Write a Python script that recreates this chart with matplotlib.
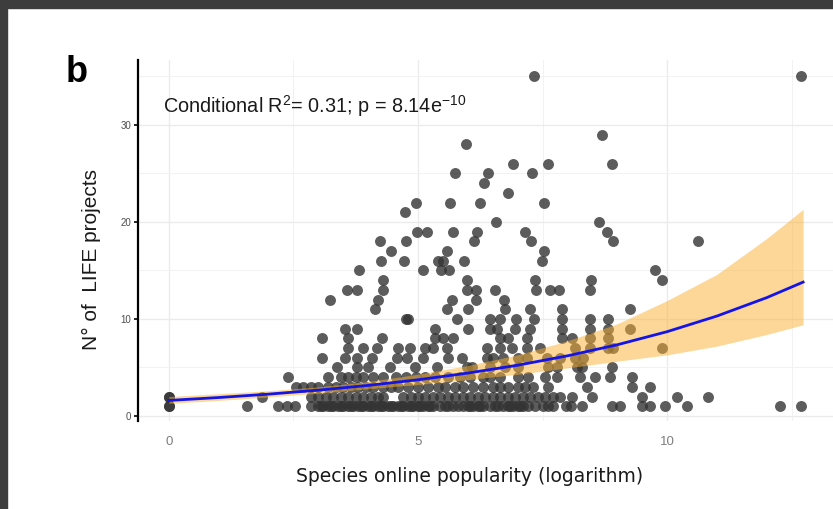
import numpy as np
import matplotlib.pyplot as plt
from matplotlib.patches import Rectangle

plt.rcParams['font.family'] = ['Liberation Sans', 'DejaVu Sans']

# Points, grouped by number of LIFE projects (y) -> popularity values (x)
x_at_1 = [0, 0, 1.57, 2.19, 2.37, 2.53, 2.85, 3.0, 3.05, 3.1, 3.2, 3.25, 3.3, 3.4, 3.45,
          3.5, 3.6, 3.65, 3.7, 3.8, 3.85, 3.9, 4.0, 4.05, 4.1, 4.2, 4.25, 4.3, 4.4, 4.45,
          4.5, 4.6, 4.65, 4.7, 4.8, 4.85, 4.9, 5.0, 5.05, 5.1, 5.2, 5.25, 5.3, 5.45, 5.55,
          5.6, 5.7, 5.8, 5.9, 6.0, 6.05, 6.1, 6.2, 6.25, 6.3, 6.45, 6.55, 6.6, 6.7, 6.8,
          6.85, 6.9, 7.0, 7.05, 7.1, 7.2, 7.35, 7.5, 7.6, 7.7, 7.97, 8.08, 8.3, 8.9, 9.05,
          9.5, 9.66, 9.96, 10.4, 12.27, 12.69]
x_at_2 = [0, 0, 1.87, 2.85, 3.0, 3.15, 3.3, 3.45, 3.6, 3.75, 3.9, 4.05, 4.2, 4.3, 4.7,
          4.85, 5.0, 5.15, 5.3, 5.45, 5.6, 5.75, 5.9, 6.05, 6.2, 6.35, 6.5, 6.65, 6.8,
          6.95, 7.1, 7.25, 7.4, 7.55, 7.7, 7.85, 8.1, 8.5, 9.5, 10.2, 10.82]
x_at_3 = [2.55, 2.7, 2.85, 3.0, 3.2, 3.35, 3.5, 3.65, 3.8, 3.95, 4.1, 4.3, 4.45, 4.6,
          4.8, 5.0, 5.2, 5.4, 5.55, 5.75, 5.9, 6.1, 6.3, 6.5, 6.65, 6.8, 7.0, 7.15, 7.3,
          7.6, 8.4, 9.3, 9.66]
x_at_4 = [2.4, 3.2, 3.45, 3.6, 3.75, 3.9, 4.1, 4.3, 4.55, 4.75, 4.95, 5.15, 5.35, 5.6,
          5.85, 6.05, 6.3, 6.45, 6.65, 7.0, 7.2, 7.55, 7.8, 8.25, 8.55, 8.85, 9.3]
x_at_5 = [3.37, 3.78, 4.0, 4.44, 4.94, 5.38, 5.98, 6.08, 6.45, 6.75, 7.0, 7.6, 7.8, 8.2,
          8.3, 8.9]
x_at_6 = [3.07, 3.53, 3.78, 4.08, 4.58, 4.78, 5.1, 5.6, 5.88, 6.39, 6.5, 6.7, 7.0, 7.19,
          7.59, 7.85, 8.15, 8.31]
x_at_7 = [3.6, 3.9, 4.18, 4.6, 4.84, 5.14, 5.3, 5.58, 6.39, 6.65, 6.89, 7.19, 7.45, 8.15,
          8.45, 8.82, 8.92, 9.9]
x_at_8 = [3.07, 3.6, 4.28, 5.34, 5.5, 5.7, 6.65, 6.8, 7.19, 7.9, 8.1, 8.45, 8.82]
x_at_9 = [3.53, 3.78, 5.34, 6.0, 6.45, 6.59, 6.95, 7.25, 7.9, 8.45, 8.82, 9.26]
x_at_10 = [4.76, 4.8, 5.78, 6.45, 6.65, 6.97, 7.33, 7.9, 8.45, 8.82]
x_at_11 = [4.14, 5.58, 6.0, 6.75, 7.25, 7.9, 9.26]
x_at_12 = [3.23, 4.2, 5.68, 6.16, 6.73]
x_at_13 = [3.57, 3.78, 4.3, 5.98, 6.16, 6.55, 7.37, 7.65, 7.83, 8.45]
x_at_14 = [4.3, 5.98, 7.35, 8.47, 9.9]
x_at_15 = [3.82, 5.1, 5.46, 5.62, 9.76]
x_at_16 = [4.26, 4.72, 5.4, 5.5, 5.92, 7.49]
x_at_17 = [4.46, 5.58, 7.53]
x_at_18 = [4.24, 4.76, 6.12, 7.27, 8.92, 10.62]
x_at_19 = [4.98, 5.18, 5.7, 6.18, 7.15, 8.8]
# sparse high counts
hi_x = [6.57, 8.63, 4.74, 4.96, 5.64, 6.24, 7.53, 6.81, 6.33,
        5.74, 6.41, 7.29, 6.91, 7.61, 8.9, 5.96, 8.69, 7.33, 12.69]
hi_y = [20, 20, 21, 22, 22, 22, 22, 23, 24,
        25, 25, 25, 26, 26, 26, 28, 29, 35, 35]

# fitted model
fit_x = [0, 1, 2, 3, 4, 5, 6, 7, 8, 9, 10, 11, 12, 12.73]
fit_y = [1.60, 1.90, 2.25, 2.66, 3.15, 3.73, 4.42, 5.23, 6.20, 7.34, 8.69, 10.3, 12.2, 13.8]
ci_lo = [1.3, 1.6, 1.95, 2.35, 2.8, 3.25, 3.75, 4.3, 4.95, 5.65, 6.3, 7.2, 8.4, 9.4]
ci_hi = [2.0, 2.3, 2.6, 3.0, 3.55, 4.3, 5.2, 6.3, 7.75, 9.5, 11.9, 14.6, 18.3, 21.3]

rows = [x_at_1, x_at_2, x_at_3, x_at_4, x_at_5, x_at_6, x_at_7, x_at_8, x_at_9, x_at_10,
        x_at_11, x_at_12, x_at_13, x_at_14, x_at_15, x_at_16, x_at_17, x_at_18, x_at_19]
pts_x, pts_y = [], []
for k, xs in enumerate(rows):
    pts_x += xs
    pts_y += [k + 1] * len(xs)
pts_x += hi_x
pts_y += hi_y

W, H = 833, 509
fig = plt.figure(figsize=(W / 100, H / 100), dpi=100)
fig.patch.set_facecolor('white')
# dark screenshot frame
fig.patches.append(Rectangle((0, 1 - 8 / H), 1, 8 / H, transform=fig.transFigure,
                             color='#3d3d3d', zorder=0))
fig.patches.append(Rectangle((0, 0), 7 / W, 1, transform=fig.transFigure,
                             color='#3d3d3d', zorder=0))

ax = fig.add_axes([138 / W, 1 - 421 / H, (W - 138) / W, (421 - 60) / H])
ax.set_xlim(-0.62, 13.33)
ax.set_ylim(-0.52, 36.7)

ax.scatter(pts_x, pts_y, s=62, color='#333333', alpha=0.8, linewidths=0, zorder=2)
ax.fill_between(fit_x, ci_lo, ci_hi, color='#FBB131', alpha=0.5, linewidth=0, zorder=3)
ax.plot(fit_x, fit_y, color='#1414E6', lw=2, zorder=4)

ax.set_xticks([0, 5, 10])
ax.set_xticks([2.5, 7.5, 12.5], minor=True)
ax.set_yticks([0, 10, 20, 30])
ax.set_yticks([5, 15, 25, 35], minor=True)
ax.grid(which='major', color='#EBEBEB', lw=1.0, zorder=0)
ax.grid(which='minor', color='#F2F2F2', lw=0.7, zorder=0)
ax.set_axisbelow(True)
for s in ['top', 'right', 'bottom']:
    ax.spines[s].set_visible(False)
ax.spines['left'].set_color('black')
ax.spines['left'].set_linewidth(1.6)
ax.tick_params(axis='x', which='both', length=0, labelsize=9.5, labelcolor='#7f7f7f', pad=11)
ax.tick_params(axis='x', which='minor', labelbottom=False)
ax.tick_params(axis='y', which='major', length=3, width=1.2, color='black',
               labelsize=7, labelcolor='#4d4d4d', pad=2)
ax.tick_params(axis='y', which='minor', length=0)

fig.text(163 / W, 1 - 106 / H,
         r'Conditional R$\mathregular{^2}$= 0.31; p = 8.14e$\mathregular{^{-10}}$',
         fontsize=14.3, ha='left', va='center', color='#1a1a1a')
fig.text(66 / W, 1 - 72 / H, 'b', fontsize=26, fontweight='bold', ha='left', va='center')
fig.text(91 / W, 1 - 260 / H, 'N° of  LIFE projects', rotation=90, fontsize=15,
         ha='center', va='center', color='#1a1a1a')
fig.text(470 / W, 1 - 476 / H, 'Species online popularity (logarithm)', fontsize=13.5,
         family='DejaVu Sans', ha='center', va='center', color='#1a1a1a')

fig.savefig('out.png', dpi=100)
